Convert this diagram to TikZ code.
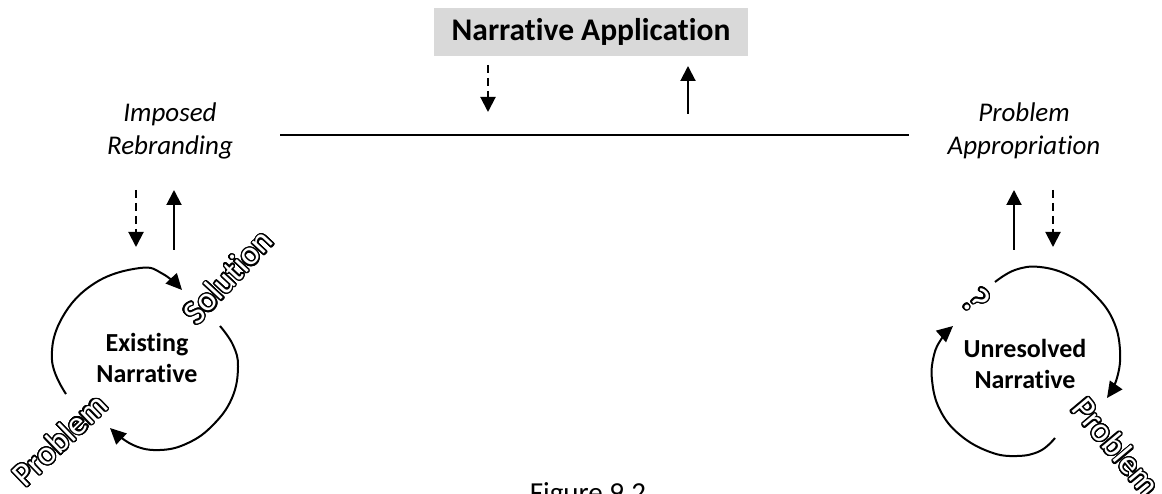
\documentclass[tikz,border=0pt]{standalone}
\usepackage{fontspec}
\setmainfont{Carlito}[Ligatures=NoCommon]
\usepackage{contour}
\contourlength{1.3pt}
\contournumber{32}
\usetikzlibrary{arrows.meta}
\definecolor{boxgray}{RGB}{217,217,217}
\newcommand{\hollow}[1]{\contour{black}{\textcolor{white}{#1}}}
\tikzset{
  solidarrow/.style={line width=2pt, -{Triangle[width=15pt,length=15pt]}},
  dashedarrow/.style={solidarrow, dash pattern=on 8pt off 5pt},
  looparrow/.style={line width=2pt, -{Triangle[width=15pt,length=16pt]}},
  stage/.style={font=\fontsize{26}{31}\selectfont\bfseries, align=center},
  move/.style={font=\fontsize{27}{33}\selectfont\itshape, align=center},
  hollowlabel/.style={font=\fontsize{34}{40}\selectfont, inner sep=0pt},
}
\begin{document}
\begin{tikzpicture}[x=1pt, y=-1pt]
\clip (0,0) rectangle (1162,494);
\useasboundingbox (0,0) rectangle (1162,494);

% top box and the shared level line
\node[fill=boxgray, minimum width=314pt, minimum height=48pt,
      font=\fontsize{31.5}{36}\selectfont\bfseries] (app) at (591,32) {Narrative Application};
\coordinate (lineL) at (280,135);
\coordinate (lineR) at (909,135);
\draw[line width=1.5pt] (lineL) -- (lineR);

\coordinate (appDownA) at (488,65);
\coordinate (appDownB) at (488,112);
\coordinate (appUpA) at (688,114);
\coordinate (appUpB) at (688,66);
\draw[dashedarrow] (appDownA) -- (appDownB);
\draw[solidarrow] (appUpA) -- (appUpB);

% side labels
\node[move] (imposed) at (170,131) {Imposed\\Rebranding};
\node[move] (approp) at (1024,131) {Problem\\Appropriation};

% left side arrows
\coordinate (lDownA) at (136,190);
\coordinate (lDownB) at (136,247);
\coordinate (lUpA) at (174,250);
\coordinate (lUpB) at (174,190);
\draw[dashedarrow] (lDownA) -- (lDownB);
\draw[solidarrow] (lUpA) -- (lUpB);

% right side arrows
\coordinate (rUpA) at (1014,250);
\coordinate (rUpB) at (1014,190);
\coordinate (rDownA) at (1053,190);
\coordinate (rDownB) at (1053,247);
\draw[solidarrow] (rUpA) -- (rUpB);
\draw[dashedarrow] (rDownA) -- (rDownB);

% existing narrative loop
\node[stage] (existing) at (147,358) {Existing\\Narrative};
\draw[looparrow] plot[smooth, tension=0.7] coordinates
  {(66,394) (52,360) (62,318) (95,283) (140,268) (163,274) (182,290)};
\draw[looparrow] plot[smooth, tension=0.7] coordinates
  {(220,326) (233,345) (238,367) (232,398) (213,425) (188,443) (160,450) (133,445) (110,428)};
\node[hollowlabel, rotate=47] (solution) at (228,277) {\hollow{Solution}};
\node[hollowlabel, rotate=44] (problemL) at (60,440) {\hollow{Problem}};

% unresolved narrative loop
\node[stage] (unresolved) at (1025,364) {Unresolved\\Narrative};
\draw[looparrow] plot[smooth, tension=0.7] coordinates
  {(995,282) (1015,270) (1040,267) (1070,276) (1095,295) (1113,320) (1120,350) (1117,378) (1107,398)};
\draw[looparrow] plot[smooth, tension=0.7] coordinates
  {(1055,438) (1040,451) (1017,456) (990,452) (960,435) (940,410) (932,380) (934,355) (942,338) (953,326)};
\node[hollowlabel, rotate=-50, font=\fontsize{40}{46}\selectfont] (query) at (976,301) {\hollow{?}};
\node[hollowlabel, rotate=-50] (problemR) at (1116,447) {\hollow{Problem}};

% caption
\node[font=\fontsize{29}{34}\selectfont, anchor=base, inner sep=0pt] (caption) at (588,502) {Figure 9.2};
\end{tikzpicture}
\end{document}
